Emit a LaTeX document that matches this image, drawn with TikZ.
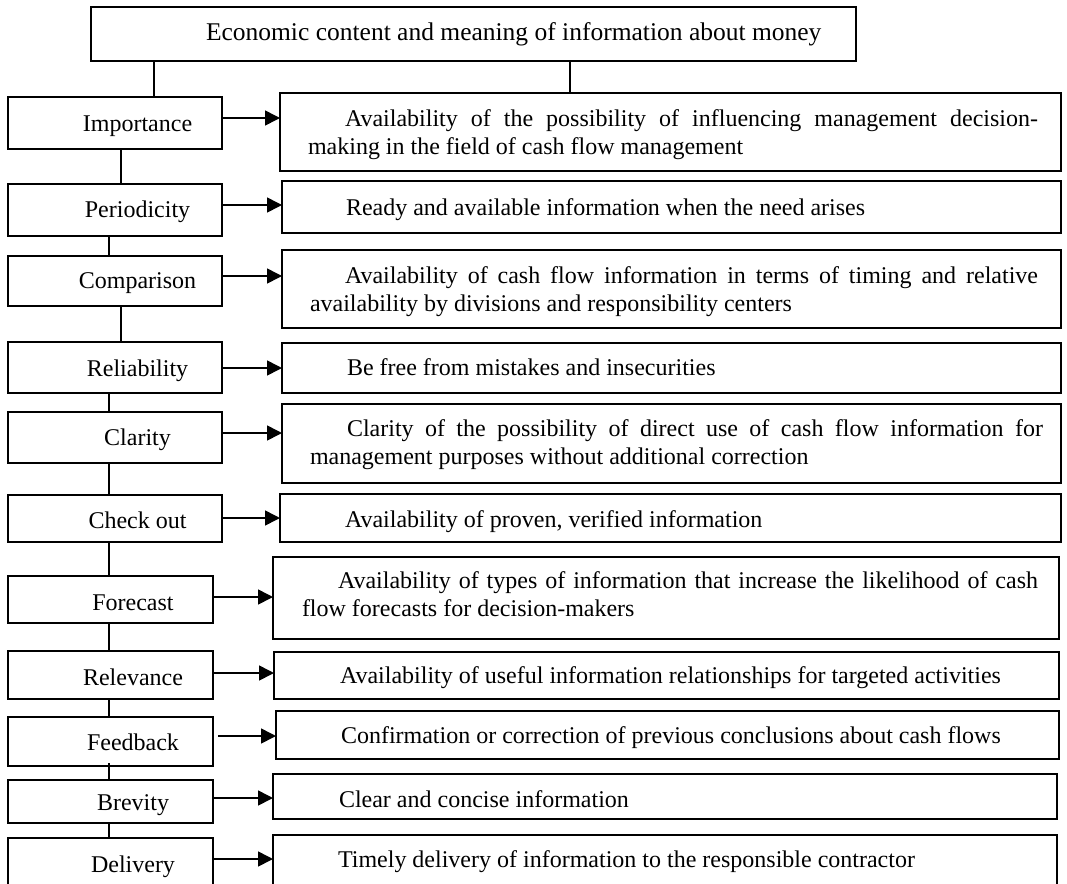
\documentclass[tikz,border=0pt]{standalone}
\usepackage{fontspec}
\setmainfont{Liberation Serif}
\usetikzlibrary{arrows.meta}
\newcommand\mkbox[5]{\node[box, minimum width={(#4)-(#2)}, minimum height={(#5)-(#3)}] (#1) at (#2,#3) {};}
\begin{document}
\begin{tikzpicture}[x=1pt, y=-1pt,
  box/.style={draw, line width=1.6pt, inner sep=0pt, outer sep=0pt, anchor=north west},
  txt/.style={inner sep=0pt, outer sep=0pt, anchor=base west, font=\fontsize{24}{28}\selectfont},
  ltxt/.style={txt, anchor=base},
  para/.style={txt, text width=#1, align=justify},
  ln/.style={line width=1.6pt},
  arr/.style={line width=1.6pt, -{Triangle[length=15pt,width=15pt]}}]
\clip (0,0) rectangle (1067,883);
\useasboundingbox (0,0) rectangle (1067,883);

% top box
\mkbox{T}{91}{7}{856}{61}
\node[txt, font=\fontsize{25.5}{28}\selectfont] (Tt) at (206,41) {Economic content and meaning of information about money};

% left boxes
\mkbox{L1}{8}{97}{222}{149}
\mkbox{L2}{8}{184}{222}{236}
\mkbox{L3}{8}{256}{222}{306}
\mkbox{L4}{8}{342}{222}{393}
\mkbox{L5}{8}{412}{222}{463}
\mkbox{L6}{8}{495}{222}{542}
\mkbox{L7}{8}{576}{213}{623}
\mkbox{L8}{8}{651}{213}{699}
\mkbox{L9}{8}{717}{213}{766}
\mkbox{L10}{8}{780}{213}{823}
\mkbox{L11}{8}{838}{213}{900}

\node[ltxt] (L1t) at (137.5,131) {Importance};
\node[ltxt] (L2t) at (137.5,217) {Periodicity};
\node[ltxt] (L3t) at (137.5,288) {Comparison};
\node[ltxt] (L4t) at (137.5,376) {Reliability};
\node[ltxt] (L5t) at (137.5,445) {Clarity};
\node[ltxt] (L6t) at (137.5,528) {Check out};
\node[ltxt] (L7t) at (133,610) {Forecast};
\node[ltxt] (L8t) at (133,685) {Relevance};
\node[ltxt] (L9t) at (133,750) {Feedback};
\node[ltxt] (L10t) at (133,810) {Brevity};
\node[ltxt] (L11t) at (133,872) {Delivery};

% description boxes
\mkbox{D1}{280}{93}{1061}{171}
\mkbox{D2}{282}{181}{1061}{233}
\mkbox{D3}{282}{250}{1061}{328}
\mkbox{D4}{282}{343}{1061}{393}
\mkbox{D5}{282}{404}{1061}{483}
\mkbox{D6}{280}{494}{1061}{542}
\mkbox{D7}{273}{557}{1059}{639}
\mkbox{D8}{274}{652}{1059}{699}
\mkbox{D9}{276}{711}{1059}{759}
\mkbox{D10}{273}{774}{1057}{819}
\mkbox{D11}{273}{835}{1057}{900}

\node[para=730pt] (D1t) at (308,126.7) {\hspace*{37pt}Availability of the possibility of influencing management decision-\linebreak making in the field of cash flow management};
\node[txt] (D2t) at (346,215) {Ready and available information when the need arises};
\node[para=728pt] (D3t) at (310,283) {\hspace*{35pt}Availability of cash flow information in terms of timing and relative\linebreak availability by divisions and responsibility centers};
\node[txt] (D4t) at (347,375) {Be free from mistakes and insecurities};
\node[para=733pt] (D5t) at (310,436.7) {\hspace*{37pt}Clarity of the possibility of direct use of cash flow information for\linebreak management purposes without additional correction};
\node[txt] (D6t) at (345,527) {Availability of proven, verified information};
\node[para=736pt] (D7t) at (302,588) {\hspace*{36pt}Availability of types of information that increase the likelihood of cash\linebreak flow forecasts for decision-makers};
\node[txt] (D8t) at (340,683) {Availability of useful information relationships for targeted activities};
\node[txt] (D9t) at (341,743) {Confirmation or correction of previous conclusions about cash flows};
\node[txt] (D10t) at (339,807) {Clear and concise information};
\node[txt] (D11t) at (338,867) {Timely delivery of information to the responsible contractor};

% vertical connectors
\coordinate (x154) at (154,0);
\coordinate (x570) at (570,0);
\coordinate (x121) at (121,0);
\coordinate (x109) at (109,0);
\draw[ln] (T.south -| x154) -- (L1.north -| x154);
\draw[ln] (T.south -| x570) -- (D1.north -| x570);
\draw[ln] (L1.south -| x121) -- (L2.north -| x121);
\draw[ln] (L2.south -| x109) -- (L3.north -| x109);
\draw[ln] (L3.south -| x121) -- (L4.north -| x121);
\draw[ln] (L4.south -| x109) -- (L5.north -| x109);
\draw[ln] (L5.south -| x109) -- (L6.north -| x109);
\draw[ln] (L6.south -| x109) -- (L7.north -| x109);
\draw[ln] (L7.south -| x109) -- (L8.north -| x109);
\draw[ln] (L8.south -| x109) -- (L9.north -| x109);
\draw[ln] ([yshift=3pt]L9.south -| x109) -- (L10.north -| x109);
\draw[ln] (L10.south -| x109) -- (L11.north -| x109);

% arrows
\coordinate (y1) at (0,118);
\coordinate (y2) at (0,205);
\coordinate (y3) at (0,276);
\coordinate (y4) at (0,368);
\coordinate (y5) at (0,433);
\coordinate (y6) at (0,518);
\coordinate (y7) at (0,597);
\coordinate (y8) at (0,673);
\coordinate (y9) at (0,736);
\coordinate (y10) at (0,798);
\coordinate (y11) at (0,859);
\draw[arr] (L1.east |- y1) -- (D1.west |- y1);
\draw[arr] (L2.east |- y2) -- (D2.west |- y2);
\draw[arr] (L3.east |- y3) -- (D3.west |- y3);
\draw[arr] (L4.east |- y4) -- (D4.west |- y4);
\draw[arr] (L5.east |- y5) -- (D5.west |- y5);
\draw[arr] (L6.east |- y6) -- (D6.west |- y6);
\draw[arr] (L7.east |- y7) -- (D7.west |- y7);
\draw[arr] (L8.east |- y8) -- (D8.west |- y8);
\draw[arr] ([xshift=5pt]L9.east |- y9) -- (D9.west |- y9);
\draw[arr] (L10.east |- y10) -- (D10.west |- y10);
\draw[arr] (L11.east |- y11) -- (D11.west |- y11);
\end{tikzpicture}
\end{document}
